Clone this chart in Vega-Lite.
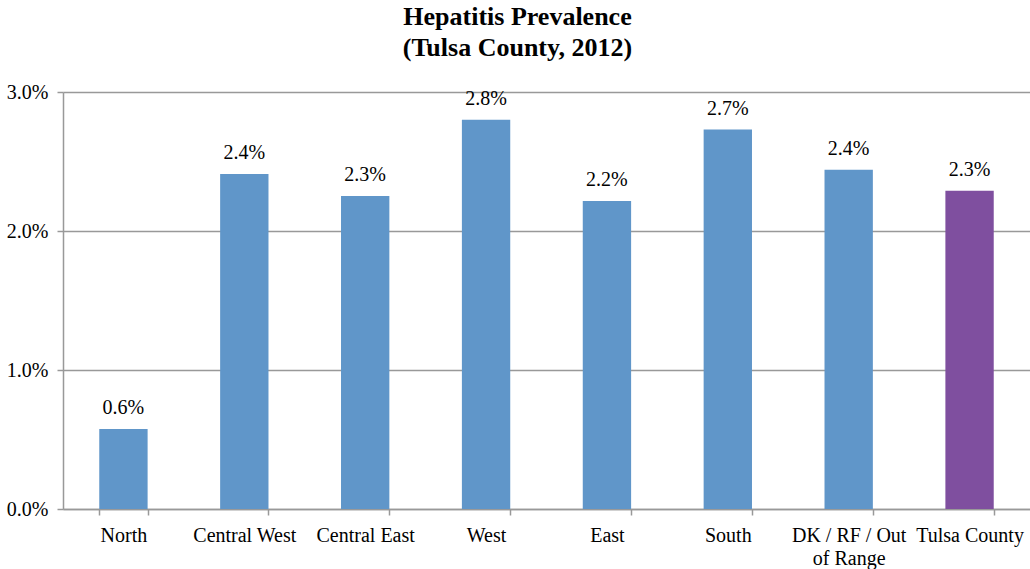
{
  "$schema": "https://vega.github.io/schema/vega-lite/v6.json",
  "width": 967,
  "height": 417,
  "autosize": {"type": "none"},
  "padding": {"left": 63, "top": 92, "right": 0, "bottom": 60},
  "background": "white",
  "title": {
    "text": ["Hepatitis Prevalence", "(Tulsa County, 2012)"],
    "font": "Liberation Serif, Times New Roman, serif",
    "fontSize": 26,
    "fontWeight": "bold",
    "color": "#000000",
    "lineHeight": 31,
    "anchor": "middle",
    "dx": -29,
    "offset": 21
  },
  "data": {
    "values": [
      {"region": "North", "value": 0.00576, "group": "region"},
      {"region": "Central West", "value": 0.0241, "group": "region"},
      {"region": "Central East", "value": 0.02252, "group": "region"},
      {"region": "West", "value": 0.0280, "group": "region"},
      {"region": "East", "value": 0.02215, "group": "region"},
      {"region": "South", "value": 0.0273, "group": "region"},
      {"region": "DK / RF / Out of Range", "value": 0.0244, "group": "region"},
      {"region": "Tulsa County", "value": 0.0229, "group": "county"}
    ]
  },
  "encoding": {
    "x": {
      "field": "region",
      "type": "nominal",
      "sort": null,
      "scale": {"paddingInner": 0.6, "paddingOuter": 0.3},
      "axis": {
        "title": null,
        "labelAngle": 0,
        "labelFont": "Liberation Serif, Times New Roman, serif",
        "labelFontSize": 20,
        "labelColor": "#000000",
        "labelPadding": 10,
        "labelExpr": "datum.label == 'DK / RF / Out of Range' ? ['DK / RF / Out', 'of Range'] : datum.label",
        "labelLineHeight": 23,
        "tickBand": "extent",
        "tickColor": "#999999",
        "tickWidth": 1.5,
        "tickSize": 6,
        "domainColor": "#999999",
        "domainWidth": 1.5,
        "grid": false
      }
    },
    "y": {
      "field": "value",
      "type": "quantitative",
      "scale": {"domain": [0, 0.03]},
      "axis": {
        "title": null,
        "format": ".1%",
        "values": [0, 0.01, 0.02, 0.03],
        "labelFont": "Liberation Serif, Times New Roman, serif",
        "labelFontSize": 20,
        "labelColor": "#000000",
        "labelPadding": 9,
        "tickColor": "#999999",
        "tickWidth": 1.5,
        "tickSize": 6,
        "domainColor": "#999999",
        "domainWidth": 1.5,
        "grid": true,
        "gridColor": "#999999",
        "gridWidth": 1.5
      }
    }
  },
  "layer": [
    {
      "mark": {"type": "bar"},
      "encoding": {
        "color": {
          "field": "group",
          "type": "nominal",
          "scale": {"domain": ["region", "county"], "range": ["#6096C9", "#7F4F9F"]},
          "legend": null
        }
      }
    },
    {
      "mark": {"type": "text", "baseline": "bottom", "dy": -11, "font": "Liberation Serif, Times New Roman, serif", "fontSize": 20, "color": "#000000"},
      "encoding": {
        "text": {"field": "value", "type": "quantitative", "format": ".1%"}
      }
    }
  ],
  "config": {"view": {"stroke": null}, "font": "Liberation Serif, Times New Roman, serif"}
}
